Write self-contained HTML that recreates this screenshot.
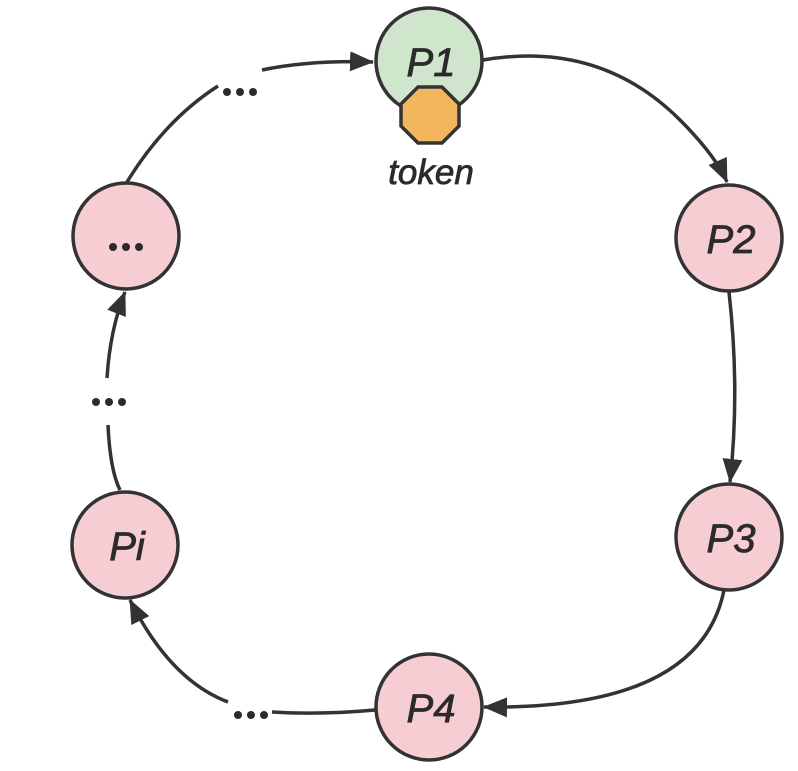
<!DOCTYPE html>
<html><head><style>
body{margin:0;background:#fff;width:798px;height:766px;overflow:hidden}
svg text{font-family:"Liberation Sans",sans-serif;font-style:italic;fill:#2b2b2b;stroke:#2b2b2b;stroke-width:0.8}
</style></head><body>
<svg width="798" height="766" viewBox="0 0 798 766">
<defs>
<marker id="b" markerWidth="24" markerHeight="20" refX="23" refY="10" orient="auto" markerUnits="userSpaceOnUse"><path d="M0,0 L24,10 L0,20z" fill="#333"/></marker></defs>
<g fill="none" stroke="#333" stroke-width="3.5">
<path d="M127,182 Q165,120 218,86"/>
<path d="M262,70 Q310,60 373,62" marker-end="url(#b)"/>
<path d="M483,60 Q600,40 680,120 Q715,155 727,182" marker-end="url(#b)"/>
<path d="M729,292 Q740,390 730,482" marker-end="url(#b)"/>
<path d="M724,590 Q700,710 484,707" marker-end="url(#b)"/>
<path d="M375,710 Q320,715 272,712"/>
<path d="M228,702 Q170,680 130,600" marker-end="url(#b)"/>
<path d="M120,490 Q110,470 108,425"/>
<path d="M107,378 Q110,330 125,292" marker-end="url(#b)"/>
</g>
<g stroke="#333" stroke-width="3.5">
<circle cx="429" cy="61" r="53" fill="#cfe5cc"/>
<circle cx="729" cy="238" r="53" fill="#f5cdd2"/>
<circle cx="729" cy="537" r="53" fill="#f5cdd2"/>
<circle cx="429" cy="707" r="53" fill="#f5cdd2"/>
<circle cx="125" cy="545" r="53" fill="#f5cdd2"/>
<circle cx="126" cy="236" r="53" fill="#f5cdd2"/>
<polygon points="418,87 442,87 459,104 459,126 442,143 418,143 401,126 401,104" fill="#f2b75e"/>
</g>
<g font-size="40" text-anchor="middle">
<text x="431" y="76">P1</text>
<text x="731" y="253">P2</text>
<text x="731" y="552">P3</text>
<text x="431" y="722">P4</text>
<text x="127" y="560">Pi</text>
</g>
<text x="431" y="184" font-size="35" text-anchor="middle">token</text>
<g fill="#2b2b2b">
<circle cx="113" cy="247" r="4"/><circle cx="126" cy="247" r="4"/><circle cx="139" cy="247" r="4"/>
<circle cx="227" cy="92" r="4"/><circle cx="240" cy="92" r="4"/><circle cx="253" cy="92" r="4"/>
<circle cx="96" cy="402" r="4"/><circle cx="109" cy="402" r="4"/><circle cx="122" cy="402" r="4"/>
<circle cx="238" cy="715" r="4"/><circle cx="251" cy="715" r="4"/><circle cx="264" cy="715" r="4"/>
</g>
</svg>
</body></html>
